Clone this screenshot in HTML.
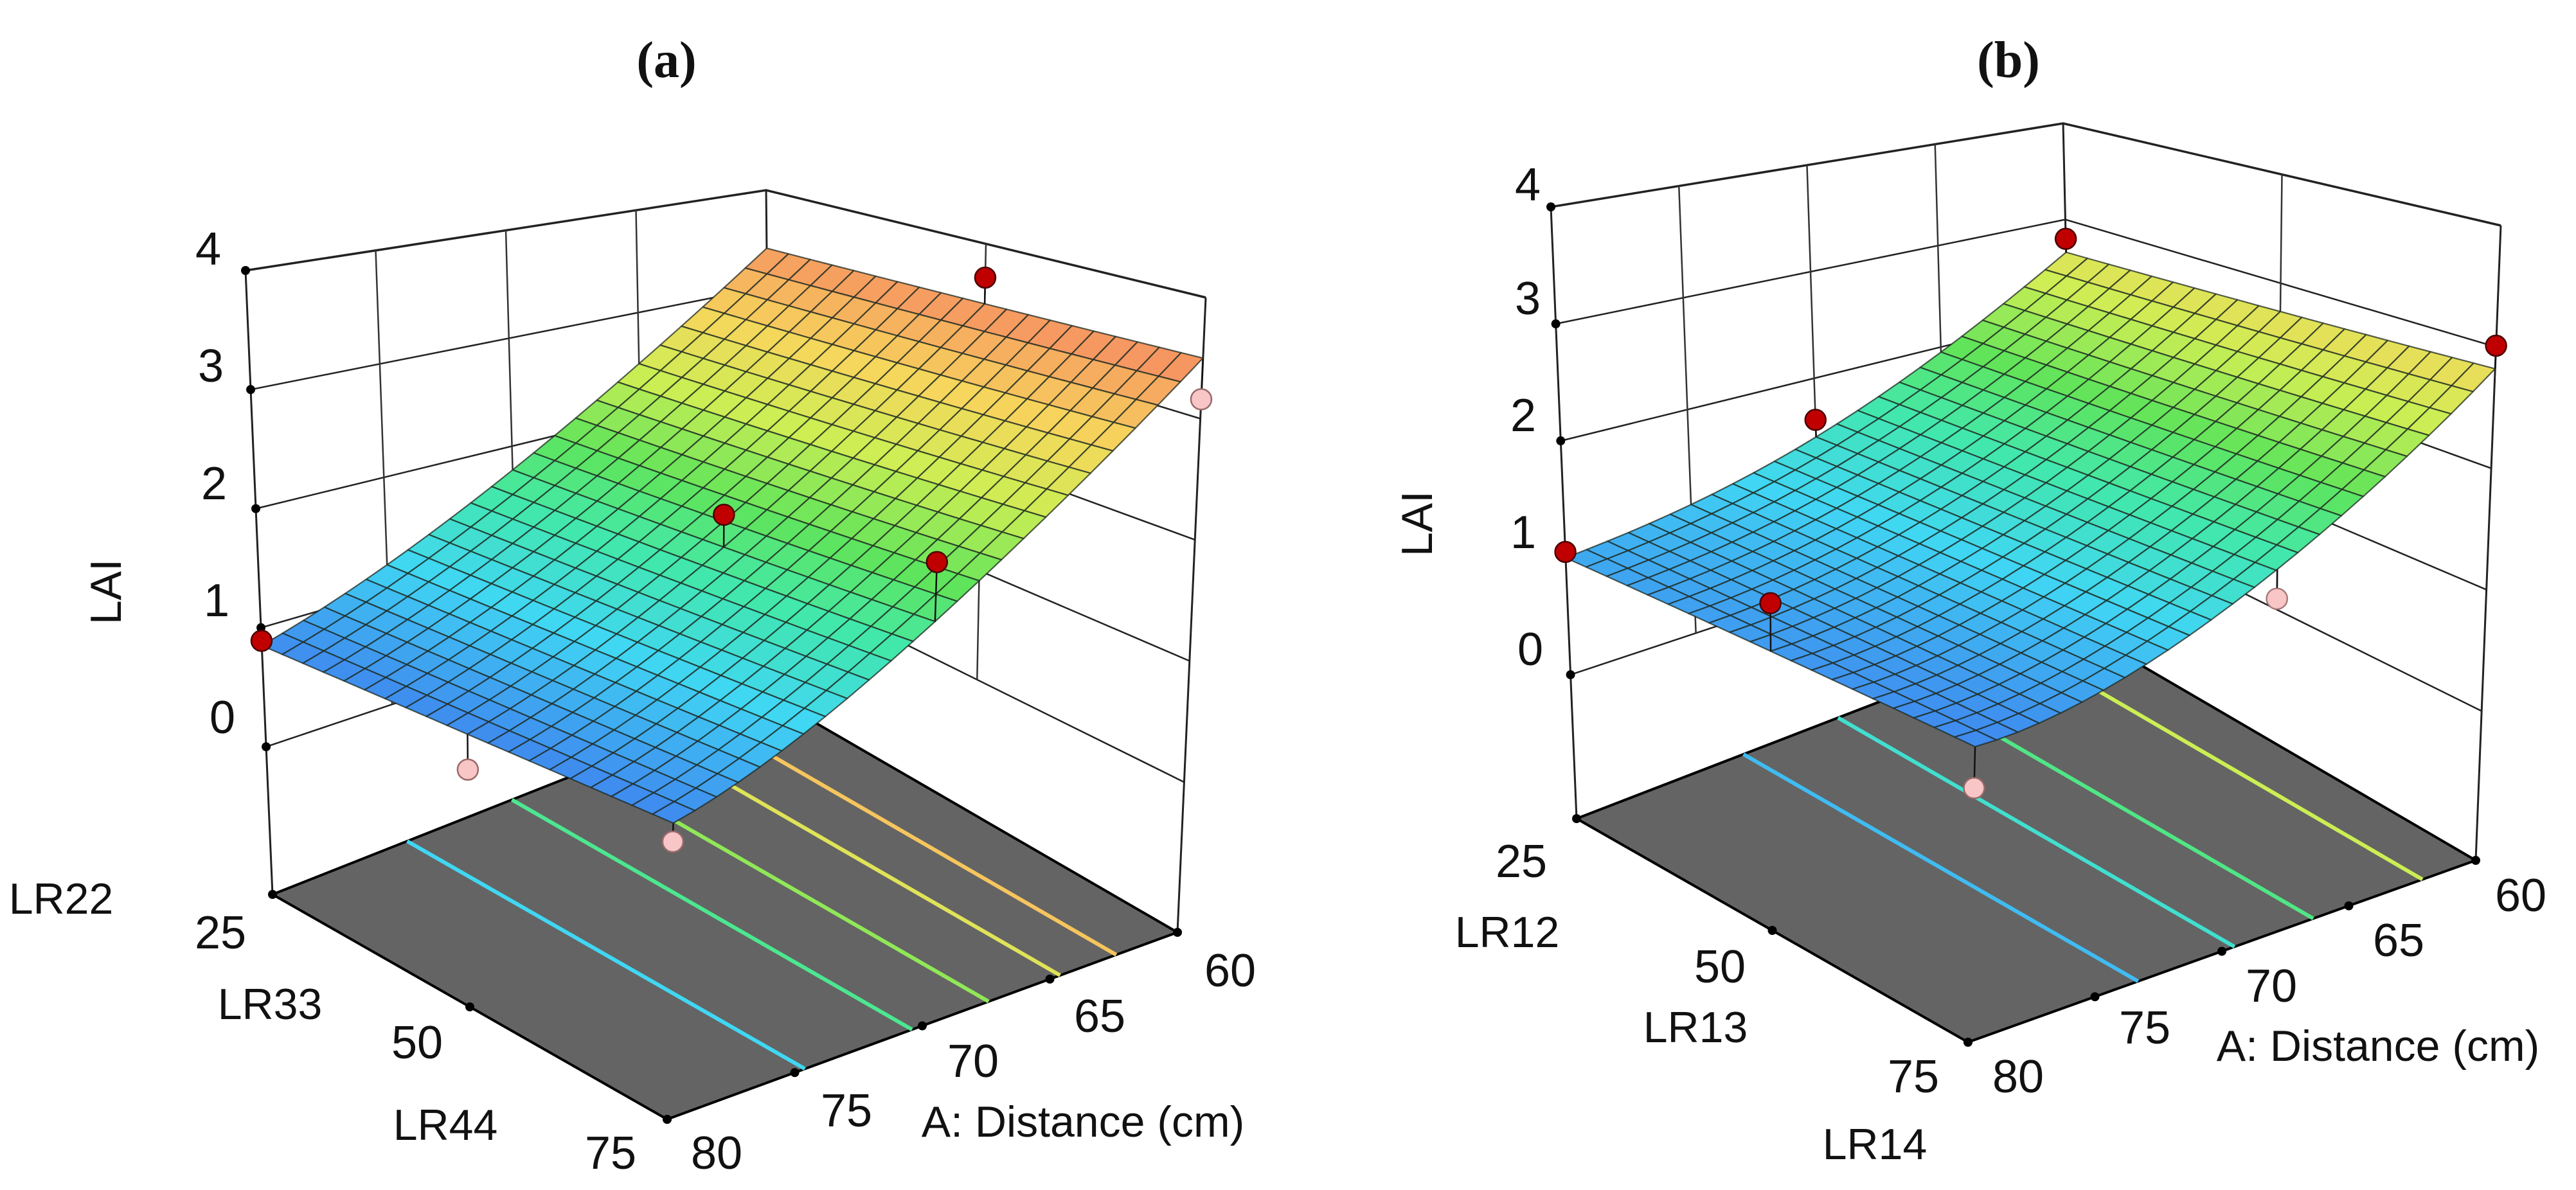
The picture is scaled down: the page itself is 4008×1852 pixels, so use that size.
<!DOCTYPE html>
<html><head><meta charset="utf-8"><title>LAI response surfaces</title>
<style>
html,body{margin:0;padding:0;background:#fff;}
svg{display:block;}
text{font-family:"Liberation Sans","DejaVu Sans",sans-serif;fill:#111;}
.ttl{font-family:"Liberation Serif",serif;font-weight:bold;font-size:80px;}
.tk{font-size:72px;}
.lr{font-size:68px;}
</style></head>
<body>
<svg id="chart" xmlns="http://www.w3.org/2000/svg" width="4008" height="1852" viewBox="0 0 4008 1852">
<rect x="0" y="0" width="4008" height="1852" fill="#fff"/>
<g id="panelA"></g>
<g id="panelB"></g>
<g>
<text class="ttl" x="1037" y="120" text-anchor="middle">(a)</text>
<text class="tk" x="324" y="412" text-anchor="middle">4</text>
<text class="tk" x="328" y="594" text-anchor="middle">3</text>
<text class="tk" x="333" y="777" text-anchor="middle">2</text>
<text class="tk" x="337" y="959" text-anchor="middle">1</text>
<text class="tk" x="346" y="1141" text-anchor="middle">0</text>
<text class="lr" x="0" y="0" text-anchor="middle" transform="translate(188,921) rotate(-90)">LAI</text>
<text class="lr" x="95" y="1422" text-anchor="middle">LR22</text>
<text class="tk" x="343" y="1476" text-anchor="middle">25</text>
<text class="lr" x="420" y="1586" text-anchor="middle">LR33</text>
<text class="tk" x="649" y="1647" text-anchor="middle">50</text>
<text class="lr" x="693" y="1774" text-anchor="middle">LR44</text>
<text class="tk" x="950" y="1819" text-anchor="middle">75</text>
<text class="tk" x="1115" y="1819" text-anchor="middle">80</text>
<text class="tk" x="1317" y="1753" text-anchor="middle">75</text>
<text class="tk" x="1514" y="1676" text-anchor="middle">70</text>
<text class="tk" x="1711" y="1606" text-anchor="middle">65</text>
<text class="tk" x="1914" y="1535" text-anchor="middle">60</text>
<text class="lr" x="1685" y="1769" text-anchor="middle">A: Distance (cm)</text>
</g>
<g>
<text class="ttl" x="3125" y="120" text-anchor="middle">(b)</text>
<text class="tk" x="2377" y="312" text-anchor="middle">4</text>
<text class="tk" x="2377" y="489" text-anchor="middle">3</text>
<text class="tk" x="2370" y="671" text-anchor="middle">2</text>
<text class="tk" x="2370" y="853" text-anchor="middle">1</text>
<text class="tk" x="2381" y="1035" text-anchor="middle">0</text>
<text class="lr" x="0" y="0" text-anchor="middle" transform="translate(2228,815) rotate(-90)">LAI</text>
<text class="tk" x="2367" y="1365" text-anchor="middle">25</text>
<text class="lr" x="2345" y="1474" text-anchor="middle">LR12</text>
<text class="tk" x="2676" y="1529" text-anchor="middle">50</text>
<text class="lr" x="2638" y="1622" text-anchor="middle">LR13</text>
<text class="tk" x="2977" y="1700" text-anchor="middle">75</text>
<text class="lr" x="2917" y="1804" text-anchor="middle">LR14</text>
<text class="tk" x="3140" y="1700" text-anchor="middle">80</text>
<text class="tk" x="3337" y="1624" text-anchor="middle">75</text>
<text class="tk" x="3534" y="1559" text-anchor="middle">70</text>
<text class="tk" x="3732" y="1488" text-anchor="middle">65</text>
<text class="tk" x="3922" y="1418" text-anchor="middle">60</text>
<text class="lr" x="3700" y="1651" text-anchor="middle">A: Distance (cm)</text>
</g>
</svg>
<script>
// ---- shared axis values ----
const aNodes = [60, 65, 70, 75, 80];
const bNodes = [25, 50, 75];
const zTicks = [0, 1, 2, 3, 4];
const aTicks = [60, 65, 70, 75, 80];
const bTicks = [25, 50, 75];

// ---- panel (a) data ----
const surfA_B25 = [3.40, 2.50, 1.78, 1.23, 0.85];
const surfA_B50 = [3.45, 2.53, 1.79, 1.22, 0.84];
const surfA_B75 = [3.50, 2.58, 1.82, 1.22, 0.83];
const ptsA_A = [80, 80, 80, 70, 70, 60, 60];
const ptsA_B = [25, 50, 75, 50, 75, 50, 75];
const ptsA_Z = [0.89, 0.57, 0.70, 2.06, 2.27, 3.69, 3.16];
const contA_A = [74.6, 70.4, 67.4, 64.6, 62.4];

// ---- panel (b) data ----
const surfB_B25 = [2.66, 1.95, 1.45, 1.15, 1.00];
const surfB_B50 = [2.74, 1.97, 1.42, 1.07, 0.92];
const surfB_B75 = [2.82, 2.00, 1.40, 1.00, 0.84];
const ptsB_A = [80, 80, 70, 60, 60, 60, 80];
const ptsB_B = [25, 50, 25, 25, 75, 50, 75];
const ptsB_Z = [1.05, 1.29, 1.61, 2.80, 3.01, 0.10, 0.55];
const contB_A = [73.3, 69.5, 66.4, 62.1];

const NS = "http://www.w3.org/2000/svg";
function mk(tag, attrs, parent){
  const e = document.createElementNS(NS, tag);
  for (const k in attrs) e.setAttribute(k, attrs[k]);
  parent.appendChild(e);
  return e;
}
function bil(q, a, b, k){
  return q.F[k]*(1-a)*(1-b) + q.R[k]*a*(1-b) + q.L[k]*(1-a)*b + q.K[k]*a*b;
}
function proj(P, A, B, z){
  const a = (80 - A)/20, b = (75 - B)/50, w = (z - P.zmin)/(4 - P.zmin);
  return [bil(P.floor,a,b,0)*(1-w) + bil(P.top,a,b,0)*w,
          bil(P.floor,a,b,1)*(1-w) + bil(P.top,a,b,1)*w];
}
function lagrange(xs, ys, x){
  let s = 0;
  for (let i=0;i<xs.length;i++){
    let t = ys[i];
    for (let j=0;j<xs.length;j++) if (j!==i) t *= (x - xs[j])/(xs[i]-xs[j]);
    s += t;
  }
  return s;
}
function surf(P, A, B){
  const r = P.rows.map(row => lagrange(aNodes, row, A));
  return lagrange(bNodes, r, B);
}
const stops = [[0.7,[62,112,236]],[1.25,[64,214,244]],[1.65,[66,232,170]],[2.0,[96,228,90]],[2.45,[205,238,84]],[2.9,[246,214,92]],[3.5,[246,140,98]]];
function colorOf(v){
  if (v <= stops[0][0]) return "rgb(" + stops[0][1].join(",") + ")";
  for (let i=1;i<stops.length;i++){
    if (v <= stops[i][0]){
      const t = (v - stops[i-1][0])/(stops[i][0]-stops[i-1][0]);
      const c = stops[i-1][1].map((c0,k)=>Math.round(c0 + (stops[i][1][k]-c0)*t));
      return "rgb(" + c.join(",") + ")";
    }
  }
  return "rgb(" + stops[stops.length-1][1].join(",") + ")";
}
function pstr(pts){ return pts.map(p=>p[0].toFixed(1)+","+p[1].toFixed(1)).join(" "); }

function drawPanel(g, P, pA, pB, pZ, contA){
  const walls = mk("g", {}, g);
  
  
  zTicks.forEach(z=>{
    const p1 = proj(P,80,25,z), p2 = proj(P,60,25,z), p3 = proj(P,60,75,z);
    const l = mk("polyline", {points: pstr([p1,p2,p3]), fill:"none", stroke:"#222", "stroke-width": z===4?3.5:2.5}, walls);
    
    
  });
  [65,70,75].forEach(A=>{
    const p1 = proj(P,A,25,0), p2 = proj(P,A,25,4);
    const l = mk("line", {x1:p1[0],y1:p1[1],x2:p2[0],y2:p2[1], stroke:"#333","stroke-width":2.5}, walls);
    
    
  });
  {
    const p1 = proj(P,60,50,0), p2 = proj(P,60,50,4);
    const l = mk("line", {x1:p1[0],y1:p1[1],x2:p2[0],y2:p2[1], stroke:"#333","stroke-width":2.5}, walls);
    
    
  }
  [[80,25],[60,25],[60,75]].forEach(c=>{
    const p1 = proj(P,c[0],c[1],P.zmin), p2 = proj(P,c[0],c[1],4);
    const l = mk("line", {x1:p1[0],y1:p1[1],x2:p2[0],y2:p2[1], stroke:"#222","stroke-width":3}, walls);
    
    
  });
  zTicks.forEach(z=>{
    const p = proj(P,80,25,z);
    const d = mk("circle", {cx:p[0], cy:p[1], r:7, fill:"#000"}, walls);
    
    
  });
  const fl = [proj(P,80,75,P.zmin), proj(P,60,75,P.zmin), proj(P,60,25,P.zmin), proj(P,80,25,P.zmin)];
  const floor = mk("polygon", {points: pstr(fl), fill:"#646464", stroke:"#000", "stroke-width":4, "stroke-linejoin":"round"}, g);
  
  
  contA.forEach(A=>{
    const p1 = proj(P,A,75,P.zmin), p2 = proj(P,A,25,P.zmin);
    const l = mk("line", {x1:p1[0],y1:p1[1],x2:p2[0],y2:p2[1], stroke: colorOf(surf(P,A,75)), "stroke-width":6}, g);
    
    
  });
  aTicks.forEach(A=>{
    const p = proj(P,A,75,P.zmin);
    const d = mk("circle", {cx:p[0], cy:p[1], r:7, fill:"#000"}, g);
    
    
  });
  bTicks.forEach(B=>{
    const p = proj(P,80,B,P.zmin);
    const d = mk("circle", {cx:p[0], cy:p[1], r:7, fill:"#000"}, g);
    
    
  });
  const below = [], above = [];
  pA.forEach((A,i)=>{ (pZ[i] >= surf(P,A,pB[i]) ? above : below).push(i); });
  function drawPoint(i, isAbove, parent){
    const A = pA[i], B = pB[i], z = pZ[i];
    const p = proj(P,A,B,z), s = proj(P,A,B,surf(P,A,B));
    const st = mk("line", {x1:p[0],y1:p[1],x2:s[0],y2:s[1], stroke:"#111","stroke-width":2.5}, parent);
    
    
    const c = mk("circle", {cx:p[0], cy:p[1], r:16, fill: isAbove ? "#c00000" : "#f8c6c6", stroke: isAbove ? "#4a0000" : "#9a6a6a", "stroke-width":2.5}, parent);
    
    
    return c;
  }
  const gb = mk("g", {}, g);
  
  
  below.forEach(i=>drawPoint(i,false,gb));
  const NA = 24, NB = 20, quads = [];
  for (let i=0;i<NA;i++) for (let j=0;j<NB;j++){
    const A0 = 80 - 20*i/NA, A1 = 80 - 20*(i+1)/NA;
    const B0 = 75 - 50*j/NB, B1 = 75 - 50*(j+1)/NB;
    const zs = [surf(P,A0,B0), surf(P,A1,B0), surf(P,A1,B1), surf(P,A0,B1)];
    quads.push({d: i/NA + j/NB, pts:[proj(P,A0,B0,zs[0]),proj(P,A1,B0,zs[1]),proj(P,A1,B1,zs[2]),proj(P,A0,B1,zs[3])], v:(zs[0]+zs[1]+zs[2]+zs[3])/4});
  }
  quads.sort((q1,q2)=>q2.d-q1.d);
  const sg = mk("g", {}, g);
  
  
  quads.forEach(q=>{
    const pg = mk("polygon", {points: pstr(q.pts), fill: colorOf(q.v), stroke:"#1d2a22", "stroke-width":2.2, "stroke-opacity":0.75, "stroke-linejoin":"round"}, sg);
    
    
  });
  const ga = mk("g", {}, g);
  
  
  above.forEach(i=>drawPoint(i,true,ga));
  below.forEach(i=>{
    if (pA[i] === 60 && pB[i] === 50){
      const p = proj(P,pA[i],pB[i],pZ[i]);
      const c = mk("circle", {cx:p[0], cy:p[1], r:16, fill:"#f8c6c6", "fill-opacity":0.6, stroke:"#9a6a6a", "stroke-opacity":0.5, "stroke-width":2}, ga);
      
      
    }
  });
}

const panelAGeom = {
  zmin: -1.24,
  floor: {F:[1038,1742], R:[1832,1451], L:[424,1392], K:[1200,1085]},
  top:   {F:[1062,575],  R:[1876,463],  L:[382,421],  K:[1192,296]},
  rows: [surfA_B25, surfA_B50, surfA_B75]
};
const panelBGeom = {
  zmin: -1.23,
  floor: {F:[3062,1622], R:[3852,1339], L:[2453,1274], K:[3228,975]},
  top:   {F:[3090,460],  R:[3891,351],  L:[2413,322],  K:[3210,192]},
  rows: [surfB_B25, surfB_B50, surfB_B75]
};
drawPanel(document.getElementById("panelA"), panelAGeom, ptsA_A, ptsA_B, ptsA_Z, contA_A);
drawPanel(document.getElementById("panelB"), panelBGeom, ptsB_A, ptsB_B, ptsB_Z, contB_A);
</script>
</body></html>
